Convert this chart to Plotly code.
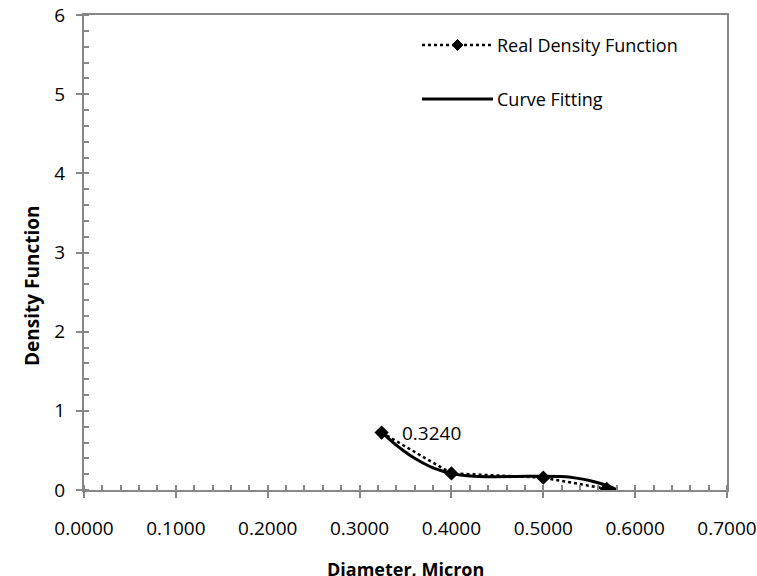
import plotly.graph_objects as go

# Measured density function (diameter in micron)
real_x = [0.324, 0.40, 0.50, 0.569]
real_y = [0.725, 0.21, 0.156, 0.015]

# Fitted curve read along its length
fit_x = [0.324, 0.335, 0.3475, 0.36, 0.37, 0.38, 0.39, 0.40, 0.41, 0.425,
         0.445, 0.47, 0.50, 0.52, 0.536, 0.55, 0.5615, 0.572, 0.58]
fit_y = [0.73, 0.615, 0.50, 0.40, 0.335, 0.28, 0.24, 0.21, 0.19, 0.175,
         0.168, 0.17, 0.175, 0.17, 0.15, 0.12, 0.085, 0.045, 0.0]

label_text = "0.3240"
x_title = "Diameter, Micron"
y_title = "Density Function"
legend_names = ["Real Density Function", "Curve Fitting"]

FONT = "Open Sans"
AXIS_GREY = "#878787"

W, H = 757, 576
L, R, T, B = 84, 30, 15, 86
PW, PH = W - L - R, H - T - B


def px(xp):
    return (xp - L) / PW


def py(yp):
    return (H - B - yp) / PH


fig = go.Figure()

fig.add_trace(go.Scatter(
    x=fit_x, y=fit_y, mode="lines",
    line=dict(color="black", width=3, shape="spline", smoothing=0.8),
    showlegend=False, hoverinfo="skip",
))
fig.add_trace(go.Scatter(
    x=real_x, y=real_y, mode="lines+markers",
    line=dict(color="black", width=2.5, dash="dot"),
    marker=dict(symbol="diamond", size=11, color="black"),
    showlegend=False,
))
# empty trace that carries the overlay axes (inner half of the major ticks)
fig.add_trace(go.Scatter(x=[], y=[], xaxis="x2", yaxis="y2", showlegend=False))

tick_font = dict(family=FONT, size=19, color="black")

fig.update_layout(
    width=W, height=H, autosize=False,
    margin=dict(l=L, r=R, t=T, b=B, pad=0, autoexpand=False),
    paper_bgcolor="white", plot_bgcolor="white",
    showlegend=False,
    xaxis=dict(
        range=[0, 0.7], dtick=0.1, tick0=0, tickformat=".4f", automargin=False,
        showgrid=False, zeroline=False,
        showline=True, linecolor=AXIS_GREY, linewidth=2, mirror=True,
        ticks="outside", ticklen=6, tickwidth=2, tickcolor=AXIS_GREY,
        minor=dict(dtick=0.02, ticks="inside", ticklen=5, tickwidth=1.5,
                   tickcolor=AXIS_GREY, showgrid=False),
        tickfont=tick_font, ticklabelstandoff=14,
    ),
    yaxis=dict(
        range=[0, 6], dtick=1, tick0=0, automargin=False,
        showgrid=False, zeroline=False,
        showline=True, linecolor=AXIS_GREY, linewidth=2, mirror=True,
        ticks="outside", ticklen=6, tickwidth=2, tickcolor=AXIS_GREY,
        minor=dict(dtick=0.2, ticks="inside", ticklen=5, tickwidth=1.5,
                   tickcolor=AXIS_GREY, showgrid=False),
        tickfont=tick_font, ticklabelstandoff=7,
    ),
    xaxis2=dict(
        range=[0, 0.7], dtick=0.1, tick0=0, overlaying="x", anchor="y",
        automargin=False,
        showgrid=False, zeroline=False, showline=False, showticklabels=False,
        ticks="inside", ticklen=5, tickwidth=2, tickcolor=AXIS_GREY,
    ),
    yaxis2=dict(
        range=[0, 6], dtick=1, tick0=0, overlaying="y", anchor="x",
        automargin=False,
        showgrid=False, zeroline=False, showline=False, showticklabels=False,
        ticks="inside", ticklen=5, tickwidth=2, tickcolor=AXIS_GREY,
    ),
)

annotations = [
    dict(x=real_x[0], y=real_y[0], xref="x", yref="y", text=label_text,
         showarrow=False, xanchor="left", yanchor="middle", xshift=18,
         font=dict(family=FONT, size=19, color="black")),
    dict(x=px(405), y=py(555), xref="paper", yref="paper", text=f"<b>{x_title}</b>",
         showarrow=False, xanchor="center", yanchor="top",
         font=dict(family=FONT, size=18, color="black")),
    dict(x=px(32), y=py(286), xref="paper", yref="paper", text=f"<b>{y_title}</b>",
         showarrow=False, textangle=-90, xanchor="center", yanchor="middle",
         font=dict(family=FONT, size=19, color="black")),
]

# hand-drawn legend inside the plot area
legend_rows = [45, 99]
for name, yrow in zip(legend_names, legend_rows):
    annotations.append(dict(
        x=px(495), y=py(yrow), xref="paper", yref="paper", text=name,
        showarrow=False, xanchor="left", yanchor="middle",
        font=dict(family=FONT, size=18, color="black")))
fig.update_layout(annotations=annotations)

shapes = [
    dict(type="line", xref="paper", yref="paper",
         x0=px(422), x1=px(493), y0=py(legend_rows[0]), y1=py(legend_rows[0]),
         line=dict(color="black", width=2.5, dash="dot")),
    dict(type="path", xref="paper", yref="paper",
         xsizemode="pixel", ysizemode="pixel",
         xanchor=px(457.5), yanchor=py(legend_rows[0]),
         path="M0,5.5 L5.5,0 L0,-5.5 L-5.5,0 Z",
         fillcolor="black", line=dict(color="black", width=1)),
    dict(type="line", xref="paper", yref="paper",
         x0=px(422), x1=px(493), y0=py(legend_rows[1]), y1=py(legend_rows[1]),
         line=dict(color="black", width=3)),
]
fig.update_layout(shapes=shapes)

fig.write_html("out.html")
